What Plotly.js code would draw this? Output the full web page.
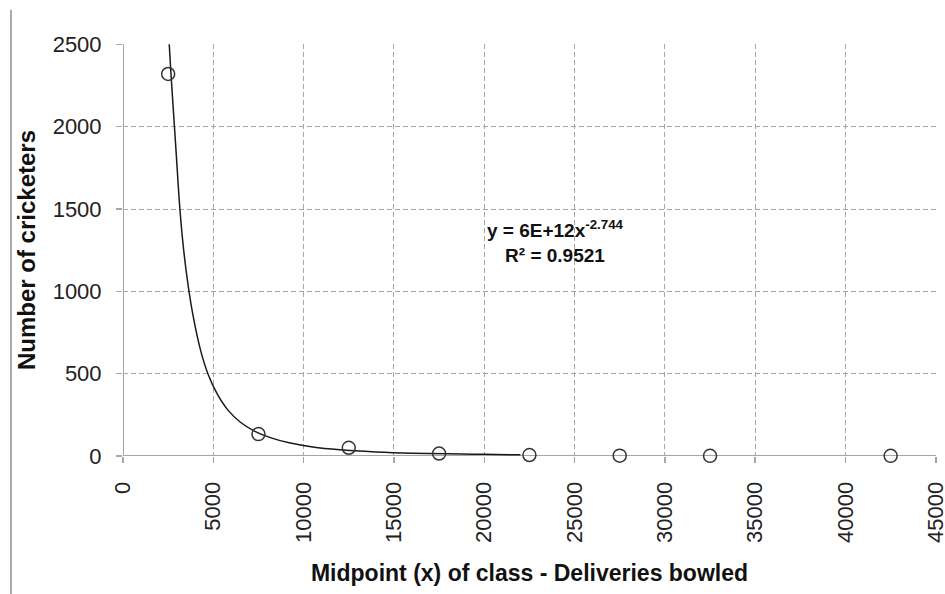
<!DOCTYPE html>
<html>
<head>
<meta charset="utf-8">
<script src="https://cdn.plot.ly/plotly-3.0.1.min.js"></script>
<style>
html,body{margin:0;padding:0;background:#fff;}
#chart{width:945px;height:594px;}
</style>
</head>
<body>
<div id="chart"></div>
<script>
// Observed data: class midpoints (deliveries bowled) and number of cricketers
var midpoints = [2500, 7500, 12500, 17500, 22500, 27500, 32500, 42500];
var cricketers = [2320, 133, 50, 15, 6, 2, 1, 1];

// Power trendline
var trendX = [2560, 2650, 2800, 2950, 3150, 3350, 3600, 3900, 4300, 4700, 5200, 5800, 6500, 7300, 8200, 9200, 10500, 12000, 14000, 16000, 18000, 20000, 22000];
var trendY = [2500, 2330, 2080, 1830, 1500, 1260, 1040, 840, 640, 500, 380, 280, 205, 150, 110, 80, 55, 38, 25, 17, 13, 10, 7];

var xTicks = [0, 5000, 10000, 15000, 20000, 25000, 30000, 35000, 40000, 45000];
var yTicks = [0, 500, 1000, 1500, 2000, 2500];

var equationText = 'y = 6E+12x<sup>-2.744</sup><br>R² = 0.9521';
var xTitle = 'Midpoint (x) of class - Deliveries bowled';
var yTitle = 'Number of cricketers';

var traces = [
  {
    x: trendX, y: trendY, type: 'scatter', mode: 'lines',
    line: {color: '#1a1a1a', width: 1.5, shape: 'spline'},
    hoverinfo: 'skip', showlegend: false
  },
  {
    x: midpoints, y: cricketers, type: 'scatter', mode: 'markers',
    marker: {symbol: 'circle', size: 13, color: 'rgba(255,255,255,0)', line: {color: '#333', width: 1.5}},
    showlegend: false, cliponaxis: false
  }
];

var gridCol = '#a6a6a6';
var layout = {
  width: 945, height: 594,
  margin: {l: 123, r: 9, t: 44, b: 138},
  paper_bgcolor: '#fff', plot_bgcolor: '#fff',
  font: {family: 'Arial, "Liberation Sans", sans-serif', color: '#222'},
  xaxis: {
    range: [0, 45010], tickvals: xTicks, ticktext: xTicks.map(String),
    tickangle: -90, tickfont: {size: 22, color: '#222'}, ticklabelstandoff: 10,
    ticklabeloverflow: 'allow',
    showgrid: true, gridcolor: gridCol, griddash: '5px,3px', gridwidth: 1,
    zeroline: false, showline: false,
    ticks: 'outside', ticklen: 6, tickcolor: gridCol, tickwidth: 1.5,
    title: {text: xTitle, font: {size: 23, color: '#111', weight: 'bold'}, standoff: 22}
  },
  yaxis: {
    range: [0, 2502], tickvals: yTicks, ticktext: yTicks.map(String),
    tickfont: {size: 22, color: '#222'}, ticklabelstandoff: 10,
    showgrid: true, gridcolor: gridCol, griddash: '5px,3px', gridwidth: 1,
    zeroline: false, showline: false,
    ticks: 'outside', ticklen: 6, tickcolor: gridCol, tickwidth: 1.5,
    title: {text: yTitle, font: {size: 24, color: '#111', weight: 'bold'}, standoff: 10}
  },
  shapes: [
    {type: 'line', xref: 'x', yref: 'y', x0: 0, x1: 45010, y0: 0, y1: 0, line: {color: gridCol, width: 2}, layer: 'below'},
    {type: 'line', xref: 'x', yref: 'y', x0: 0, x1: 0, y0: 0, y1: 2502, line: {color: gridCol, width: 2}, layer: 'below'},
    {type: 'line', xref: 'paper', yref: 'paper', x0: -0.1378, x1: -0.1378, y0: -0.34, y1: 1.083, line: {color: '#aaa', width: 2}}
  ],
  annotations: [
    {text: equationText, xref: 'x', yref: 'y', x: 23950, y: 1300, showarrow: false,
     font: {size: 19, color: '#111', weight: 'bold'}, align: 'center'}
  ]
};

Plotly.newPlot('chart', traces, layout, {displayModeBar: false, staticPlot: true});
</script>
</body>
</html>
